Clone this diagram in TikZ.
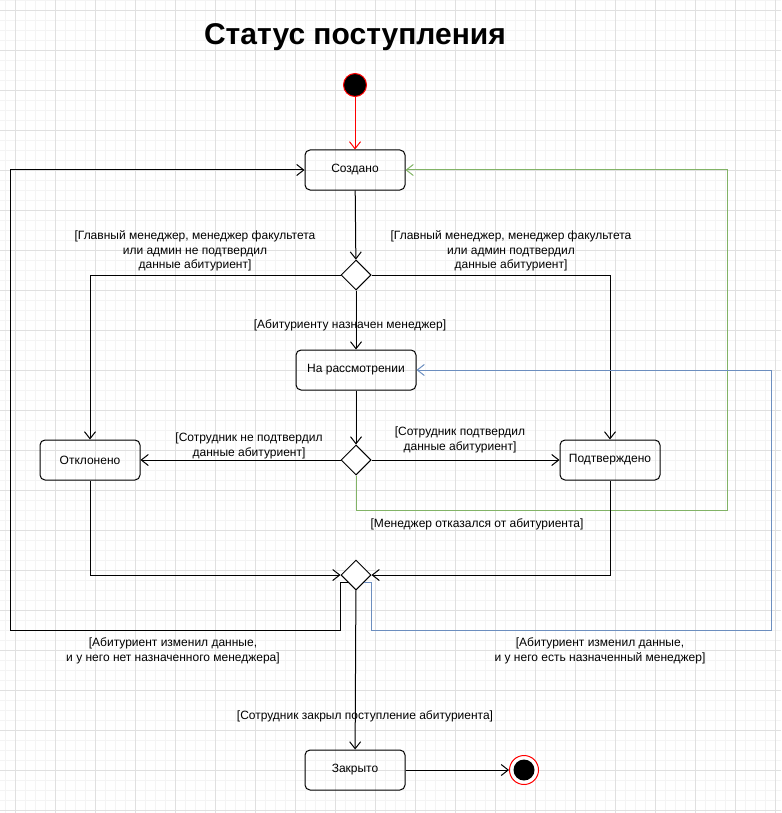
\documentclass[tikz,border=0pt]{standalone}
\usepackage{fontspec}
\setmainfont{Liberation Sans}
\usetikzlibrary{arrows.meta,shapes.geometric}
\definecolor{gminor}{HTML}{F4F4F4}
\definecolor{gmajor}{HTML}{E0E0E0}
\definecolor{dgreen}{HTML}{82B366}
\definecolor{dblue}{HTML}{6C8EBF}
\tikzset{
  stbox/.style={draw, line width=1pt, rounded corners=5pt, minimum width=100pt, minimum height=40pt, inner sep=0pt, font=\fontsize{12}{14}\selectfont},
  dia/.style={draw, line width=1pt, diamond, aspect=1, minimum width=30pt, minimum height=30pt, inner sep=0pt, fill=white},
  arr/.style={line width=1pt, -{Straight Barb[length=7pt,width=11pt]}},
  lbl/.style={align=center, inner sep=0pt, font=\fontsize{12}{14.5}\selectfont},
}
\begin{document}
\begin{tikzpicture}[x=1pt,y=-1pt]
\useasboundingbox (0,0) rectangle (781,813);
\fill[white] (0,0) rectangle (781,813);
\foreach \x in {5,15,...,775} \draw[gminor, line width=0.8pt] (\x,0) -- (\x,813);
\foreach \y in {0,10,...,810} \draw[gminor, line width=0.8pt] (0,\y) -- (781,\y);
\foreach \x in {15,55,...,775} \draw[gmajor, line width=0.8pt] (\x,0) -- (\x,813);
\foreach \y in {10,50,...,810} \draw[gmajor, line width=0.8pt] (0,\y) -- (781,\y);

\node[font=\fontsize{30}{34}\selectfont\bfseries] (title) at (355,37) {Статус поступления};

\node[circle, draw=red, fill=black, line width=1pt, minimum size=23pt, inner sep=0pt] (init) at (355,85) {};
\node[stbox] (sozd) at (355,170) {Создано};
\node[dia] (d1) at (356,275) {};
\node[stbox, minimum width=120pt] (nr) at (356,370) {На рассмотрении};
\node[dia] (d2) at (356,460) {};
\node[stbox] (otk) at (90,460) {Отклонено};
\node[stbox] (pod) at (610,460) {Подтверждено};
\node[dia] (d3) at (356,575) {};
\node[stbox] (zak) at (355,770) {Закрыто};
\node[circle, draw=red, fill=white, line width=1pt, minimum size=29pt, inner sep=0pt] (fin) at (524,770) {};
\node[circle, fill=black, minimum size=21pt, inner sep=0pt] (finin) at (fin.center) {};

\coordinate (g1) at (727,510);
\coordinate (b1) at (340,630);
\coordinate (b2) at (10,170);
\coordinate (u1) at (371,630);
\coordinate (u2) at (771,370);

\draw[arr, red] (init) -- (sozd);
\draw[arr] (sozd) -- (d1);
\draw[arr] (d1.west) -| (otk.north);
\draw[arr] (d1.east) -| (pod.north);
\draw[arr] (d1) -- (nr);
\draw[arr] (nr) -- (d2);
\draw[arr] (d2.west) -- (otk.east);
\draw[arr] (d2.east) -- (pod.west);
\draw[arr, dgreen] (d2.south) |- (g1) |- (sozd.east);
\draw[arr] (otk.south) |- (d3.west);
\draw[arr] (pod.south) |- (d3.east);
\draw[arr] (d3.south west) -| (b1) -| (b2) -- (sozd.west);
\draw[arr, dblue] (d3.south east) -| (u1) -| (u2) -- (nr.east);
\draw[arr] (d3) -- (zak);
\draw[arr] (zak) -- (fin);

\node[lbl] (l1) at (195,251) {[Главный менеджер, менеджер факультета\\или админ не подтвердил\\данные абитуриент]};
\node[lbl] (l2) at (511,251) {[Главный менеджер, менеджер факультета\\или админ подтвердил\\данные абитуриент]};
\node[lbl] (l3) at (350,325) {[Абитуриенту назначен менеджер]};
\node[lbl] (l4) at (249,446) {[Сотрудник не подтвердил\\данные абитуриент]};
\node[lbl] (l5) at (460,440) {[Сотрудник подтвердил\\данные абитуриент]};
\node[lbl] (l6) at (477,524) {[Менеджер отказался от абитуриента]};
\node[lbl] (l7) at (173,651) {[Абитуриент изменил данные,\\и у него нет назначенного менеджера]};
\node[lbl] (l8) at (600,651) {[Абитуриент изменил данные,\\и у него есть назначенный менеджер]};
\node[lbl] (l9) at (365,716) {[Сотрудник закрыл поступление абитуриента]};
\end{tikzpicture}
\end{document}
